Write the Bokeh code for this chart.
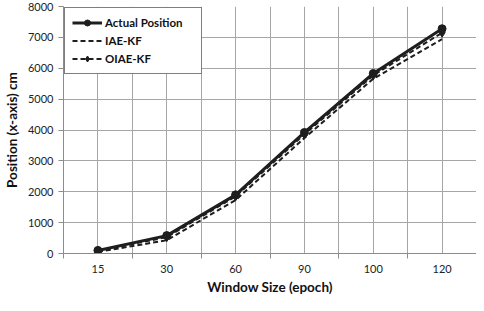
from bokeh.plotting import figure
from bokeh.models import Range1d, FixedTicker, Legend, LegendItem, Title
from bokeh.embed import file_html
from bokeh.resources import INLINE

# ---- data ----
x_cats = ["15", "30", "60", "90", "100", "120"]
actual = [100, 580, 1900, 3920, 5830, 7280]
iae_kf = [50, 430, 1730, 3740, 5660, 6940]
oiae_kf = [80, 530, 1850, 3860, 5770, 7150]
y_ticks = [0, 1000, 2000, 3000, 4000, 5000, 6000, 7000, 8000]

FONT = "Lato"
n = len(x_cats)
xs = [i + 0.5 for i in range(n)]

p = figure(width=476, height=295, output_backend="svg", toolbar_location=None,
           x_range=Range1d(0, n), y_range=Range1d(y_ticks[0], y_ticks[-1]),
           min_border_left=55, min_border_right=0, min_border_top=6, min_border_bottom=0)
p.outline_line_color = None
p.background_fill_color = "white"
p.border_fill_color = "white"

# x axis: labels at category centers, tick marks at boundaries
p.xaxis.ticker = FixedTicker(ticks=xs, minor_ticks=list(range(n + 1)))
p.xaxis.major_label_overrides = {x: c for x, c in zip(xs, x_cats)}
p.xaxis.major_tick_line_color = None
p.xaxis.major_tick_out = 0
p.xaxis.major_tick_in = 0
p.xaxis.minor_tick_line_color = "#8c8c8c"
p.xaxis.minor_tick_out = 5
p.xaxis.minor_tick_in = 0
p.xaxis.major_label_standoff = 6

p.yaxis.ticker = FixedTicker(ticks=y_ticks)
p.yaxis.minor_tick_line_color = None
p.yaxis.major_tick_out = 5
p.yaxis.major_tick_in = 0
p.yaxis.major_tick_line_color = "#8c8c8c"
p.yaxis.major_label_standoff = 5
p.yaxis.axis_label = "Position (x-axis) cm"
p.yaxis.axis_label_standoff = 5

for ax in (p.xaxis, p.yaxis):
    ax.axis_line_color = "#8c8c8c"
    ax.major_label_text_font = FONT
    ax.major_label_text_font_size = "11px"
    ax.major_label_text_color = "#222222"
    ax.axis_label_text_font = FONT
    ax.axis_label_text_font_size = "13.5px"
    ax.axis_label_text_font_style = "bold"
    ax.axis_label_text_color = "#111111"

# x-axis title
p.add_layout(Title(text="Window Size (epoch)", align="center", standoff=2, offset=0,
                   text_font=FONT, text_font_size="13.5px", text_font_style="bold",
                   text_color="#111111"), "below")

p.xgrid.ticker = FixedTicker(ticks=sorted(xs + list(range(n + 1))))
p.xgrid.grid_line_color = "#a6a6a6"
p.ygrid.ticker = FixedTicker(ticks=y_ticks)
p.ygrid.grid_line_color = "#a6a6a6"

c = "#1e1e1e"
r_iae = p.line(xs, iae_kf, line_color=c, line_width=2, line_dash="5 3")
r_oiae_l = p.line(xs, oiae_kf, line_color=c, line_width=2, line_dash="5 3")
r_oiae_m = p.scatter(xs, oiae_kf, marker="diamond", size=9, fill_color=c, line_color=c)
r_act_l = p.line(xs, actual, line_color=c, line_width=3)
r_act_m = p.scatter(xs, actual, marker="circle", size=8, fill_color=c, line_color=c)

legend = Legend(items=[
    LegendItem(label="Actual Position", renderers=[r_act_l, r_act_m]),
    LegendItem(label="IAE-KF", renderers=[r_iae]),
    LegendItem(label="OIAE-KF", renderers=[r_oiae_l, r_oiae_m]),
], location="top_left")
legend.border_line_color = "black"
legend.border_line_width = 1
legend.background_fill_color = "white"
legend.background_fill_alpha = 1
legend.margin = 1
legend.padding = 7
legend.spacing = 3
legend.glyph_width = 30
legend.glyph_height = 15
legend.label_height = 15
legend.label_width = 89
legend.label_standoff = 3
legend.label_text_font = FONT
legend.label_text_font_size = "11.5px"
legend.label_text_font_style = "bold"
legend.label_text_color = "#111111"
legend.label_text_baseline = "middle"
p.add_layout(legend)

open("out.html", "w").write(file_html(p, INLINE))
